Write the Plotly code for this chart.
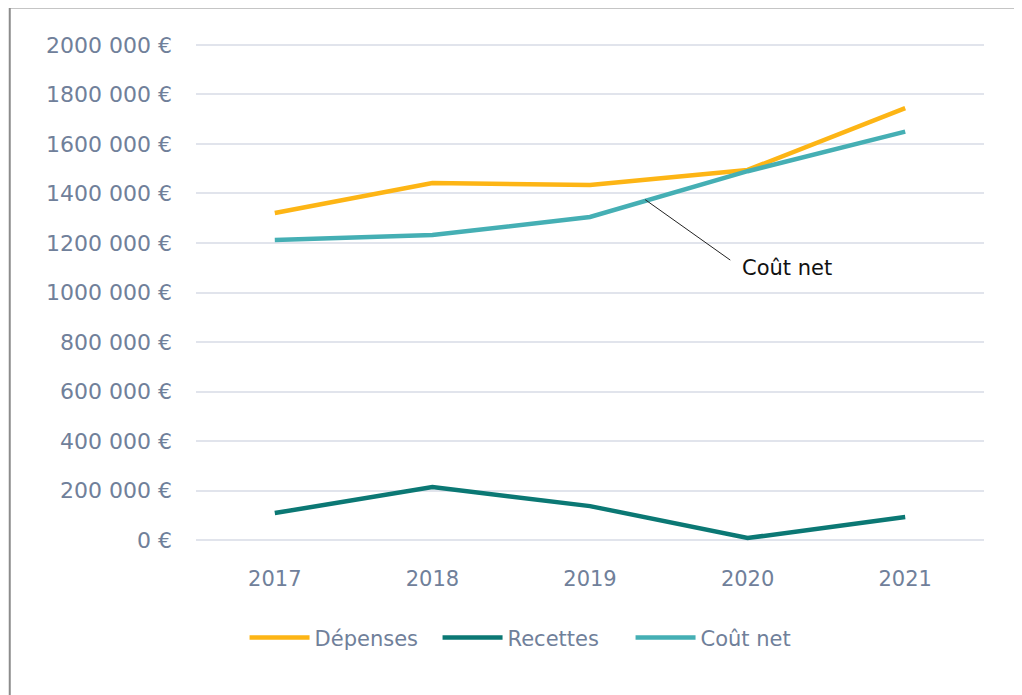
import plotly.graph_objects as go

years = ["2017", "2018", "2019", "2020", "2021"]
depenses = [1321000, 1442000, 1434000, 1495000, 1745000]
recettes = [109000, 214000, 137000, 8000, 93000]
cout_net = [1212000, 1232000, 1305000, 1490000, 1650000]

tick_vals = [0, 200000, 400000, 600000, 800000, 1000000, 1200000, 1400000, 1600000, 1800000, 2000000]
tick_text = ["0 €", "200 000 €", "400 000 €", "600 000 €", "800 000 €", "1000 000 €",
             "1200 000 €", "1400 000 €", "1600 000 €", "1800 000 €", "2000 000 €"]

series = [("Dépenses", depenses, "#FDB515"),
          ("Recettes", recettes, "#0B7874"),
          ("Coût net", cout_net, "#45AFB4")]

fig = go.Figure()
for name, vals, col in series:
    fig.add_trace(go.Scatter(x=years, y=vals, name=name, mode="lines",
                             line=dict(color=col, width=4.5), cliponaxis=False))

FONT = "DejaVu Sans"
GRAY = "#70809a"

fig.update_layout(
    width=1022, height=695,
    margin=dict(l=188, r=46, t=32, b=158, autoexpand=False),
    plot_bgcolor="white", paper_bgcolor="white",
    font=dict(family=FONT, color=GRAY),
    showlegend=True,
    legend=dict(orientation="h", x=0.429, xanchor="center",
                y=-0.184, yanchor="middle",
                font=dict(family=FONT, size=21, color=GRAY),
                itemwidth=60, entrywidth=118, entrywidthmode="pixels",
                traceorder="normal"),
    xaxis=dict(type="category", range=[-0.5, 4.5], showgrid=False, zeroline=False,
               showline=False, ticks="", tickfont=dict(family=FONT, size=21, color=GRAY),
               ticklabelstandoff=19, tickangle=0, automargin=False),
    yaxis=dict(range=[-20000, 2020000], tickvals=tick_vals, ticktext=tick_text,
               showgrid=True, gridcolor="#e1e4ec", gridwidth=1.5, zeroline=False,
               showline=False, ticks="", tickfont=dict(family=FONT, size=22, color=GRAY),
               ticklabelstandoff=23, automargin=False),
)

# leader line and label for "Coût net"
fig.add_shape(type="line", xref="x", yref="y", x0=2.35, y0=1375000, x1=2.89, y1=1131000,
              line=dict(color="#222222", width=1))
fig.add_annotation(xref="x", yref="y", x=3.25, y=1099000, text="Coût net", showarrow=False,
                   font=dict(family=FONT, size=21, color="#111111"))

# outer frame (partially visible)
fig.add_shape(type="rect", xref="paper", yref="paper",
              x0=(2 - 188.25) / 788, x1=1.3, y0=-0.6, y1=(537 + 0.5) / 505,
              line=dict(color="#8c8c8c", width=2), fillcolor="rgba(0,0,0,0)", layer="below")

fig.write_html("out.html")
